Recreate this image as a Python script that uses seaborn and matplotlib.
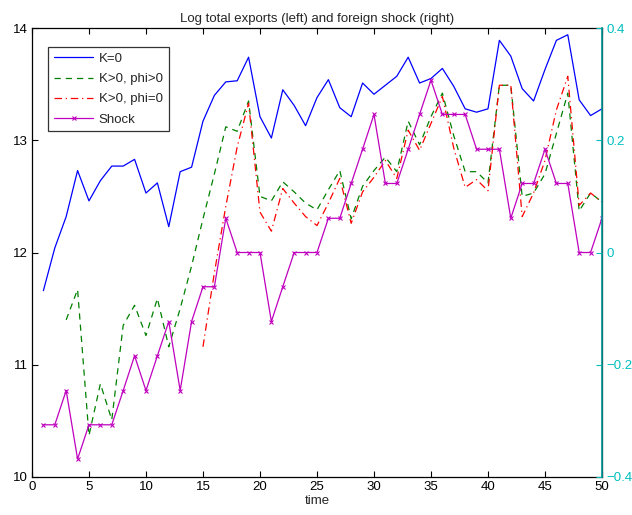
import numpy as np
import pandas as pd
import seaborn as sns
import matplotlib
matplotlib.use("Agg")
import matplotlib.pyplot as plt

time = list(range(1, 51))

k0 = [11.66, 12.04, 12.32, 12.73, 12.46, 12.64, 12.77, 12.77, 12.83, 12.53,
      12.62, 12.23, 12.72, 12.76, 13.17, 13.40, 13.52, 13.53, 13.74, 13.21,
      13.02, 13.45, 13.31, 13.13, 13.38, 13.54, 13.29, 13.21, 13.51, 13.41,
      13.49, 13.57, 13.74, 13.51, 13.55, 13.64, 13.48, 13.28, 13.25, 13.28,
      13.89, 13.75, 13.46, 13.35, 13.63, 13.89, 13.94, 13.36, 13.22, 13.28]

# K>0, phi>0 starts at t=3
t_pos = list(range(3, 51))
k_pos = [11.40, 11.67, 10.37, 10.83, 10.51, 11.35, 11.53, 11.26, 11.59, 11.16,
         11.50, 11.88, 12.30, 12.70, 13.12, 13.08, 13.35, 12.50, 12.46, 12.63,
         12.54, 12.44, 12.38, 12.56, 12.73, 12.30, 12.59, 12.73, 12.85, 12.72,
         13.17, 12.96, 13.21, 13.42, 13.04, 12.72, 12.72, 12.62, 13.49, 13.49,
         12.50, 12.53, 12.70, 13.06, 13.42, 12.37, 12.53, 12.45]

# K>0, phi=0 starts at t=15
t_zero = list(range(15, 51))
k_zero = [11.16, 11.82, 12.41, 12.94, 13.33, 12.36, 12.19, 12.57, 12.44, 12.32,
          12.24, 12.44, 12.66, 12.26, 12.54, 12.67, 12.82, 12.66, 13.09, 12.91,
          13.15, 13.39, 12.93, 12.58, 12.65, 12.55, 13.49, 13.49, 12.32, 12.53,
          12.82, 13.27, 13.57, 12.42, 12.53, 12.45]

shock = [-0.307, -0.307, -0.246, -0.368, -0.307, -0.307, -0.307, -0.246, -0.184, -0.246,
         -0.184, -0.123, -0.246, -0.123, -0.061, -0.061, 0.061, 0.0, 0.0, 0.0,
         -0.123, -0.061, 0.0, 0.0, 0.0, 0.061, 0.061, 0.123, 0.184, 0.246,
         0.123, 0.123, 0.184, 0.246, 0.307, 0.246, 0.246, 0.246, 0.184, 0.184,
         0.184, 0.061, 0.123, 0.123, 0.184, 0.123, 0.123, 0.0, 0.0, 0.061]

sns.set_theme(style="white")
plt.rcParams["font.family"] = ["Liberation Sans", "DejaVu Sans"]
plt.rcParams["xtick.direction"] = "in"
plt.rcParams["ytick.direction"] = "in"

fs = 9.5
fig = plt.figure(figsize=(6.32, 5.15), dpi=100)
ax = fig.add_axes([0.0506, 0.0738, 0.9019, 0.8718])

sns.lineplot(x=time, y=k0, ax=ax, color="#0000ff", linewidth=0.9, label="K=0")
sns.lineplot(x=t_pos, y=k_pos, ax=ax, color="#008000", linewidth=0.9,
             linestyle=(0, (5, 4)), label="K>0, phi>0")
sns.lineplot(x=t_zero, y=k_zero, ax=ax, color="#ff0000", linewidth=0.9,
             linestyle=(0, (6, 3, 1, 3)), label="K>0, phi=0")

ax2 = ax.twinx()
sns.lineplot(x=time, y=shock, ax=ax2, color="#bf00bf", linewidth=0.9,
             marker="x", markersize=2.5, markeredgewidth=0.8,
             markeredgecolor="#bf00bf", label="Shock")

ax.set_xlim(0, 50)
ax.set_ylim(10, 14)
ax2.set_ylim(-0.4, 0.4)
ax.set_xticks(range(0, 51, 5))
ax.set_yticks([10, 11, 12, 13, 14])
ax2.set_yticks([-0.4, -0.2, 0, 0.2, 0.4])
ax2.set_yticklabels(["\u22120.4", "\u22120.2", "0", "0.2", "0.4"])

ax.tick_params(axis="both", labelsize=fs, length=4, width=0.8, colors="black",
               top=True, bottom=True, left=True, right=False, pad=3)
ax2.tick_params(axis="y", labelsize=fs, length=4, width=0.8, colors="#00bfbf",
                left=False, right=True, pad=3)

for sp in ax.spines.values():
    sp.set_color("black")
    sp.set_linewidth(0.9)
for name, sp in ax2.spines.items():
    sp.set_visible(name == "right")
ax2.spines["right"].set_color("#009999")
ax2.spines["right"].set_linewidth(1.2)

ax.set_xlabel("time", fontsize=fs, labelpad=1)
ax.set_ylabel("")
ax2.set_ylabel("")
ax.set_title("Log total exports (left) and foreign shock (right)", fontsize=fs, pad=4)

h1, l1 = ax.get_legend_handles_labels()
h2, l2 = ax2.get_legend_handles_labels()
if ax2.get_legend() is not None:
    ax2.get_legend().remove()
leg = ax.legend(h1 + h2, l1 + l2, loc="upper left", bbox_to_anchor=(0.028, 0.958),
                borderaxespad=0, fontsize=fs, frameon=True, fancybox=False,
                edgecolor="black", handlelength=3.0, borderpad=0.45,
                labelspacing=0.6, handletextpad=0.4, numpoints=1)
leg.get_frame().set_linewidth(0.9)

fig.savefig("out.png", dpi=100)
